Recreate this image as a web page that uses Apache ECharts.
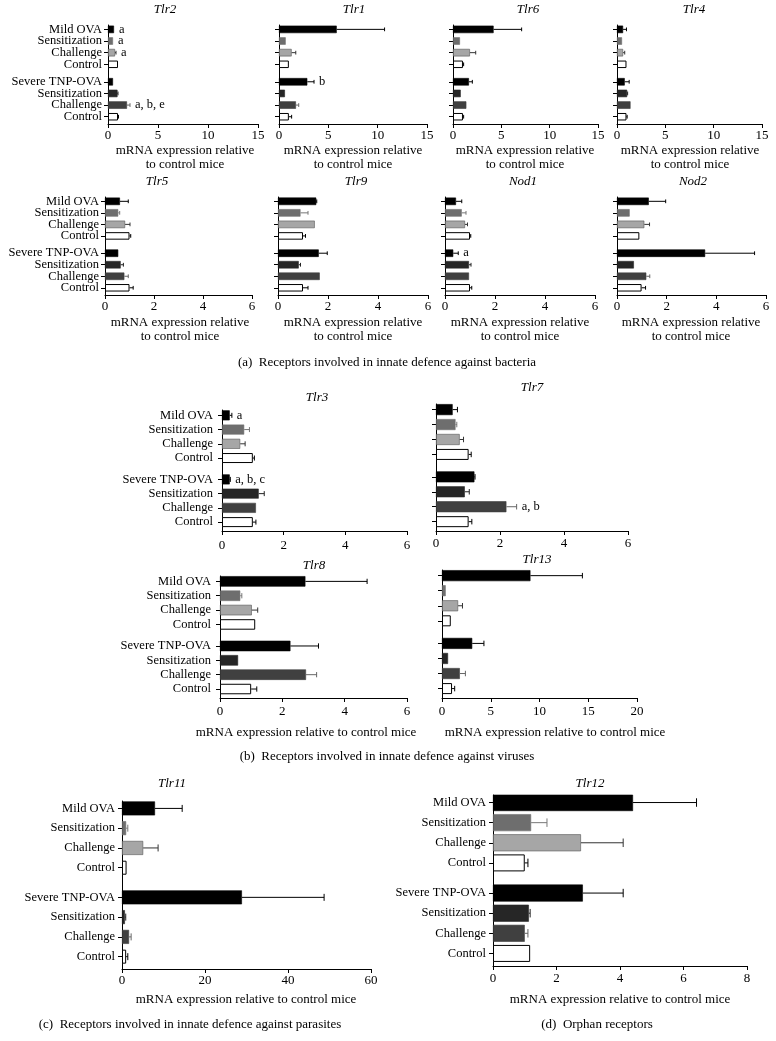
<!DOCTYPE html>
<html><head><meta charset="utf-8">
<script src="https://cdn.jsdelivr.net/npm/echarts@6/dist/echarts.min.js"></script>
<style>html,body{margin:0;padding:0;background:#fff}#c{width:776px;height:1041px}</style>
</head><body><div id="c"></div>
<script>
const categories = ['Mild OVA','Sensitization','Challenge','Control','Severe TNP-OVA','Sensitization','Challenge','Control'];

const ticks15 = [0,5,10,15];
const ticks6 = [0,2,4,6];
const ticks20 = [0,5,10,15,20];
const ticks60 = [0,20,40,60];
const ticks8 = [0,2,4,6,8];

const tlr2Mean = [0.6,0.5,0.7,1.0,0.5,0.95,1.9,1.0];
const tlr2Sem  = [0,0,0.1,0,0,0.05,0.3,0.05];
const tlr2Notes = ['a','a','a','','','','a, b, e',''];

const tlr1Mean = [5.85,0.68,1.28,1.0,2.87,0.6,1.72,1.0];
const tlr1Sem  = [4.85,0,0.42,0,0.68,0,0.28,0.28];
const tlr1Notes = ['','','','','b','','',''];

const tlr6Mean = [4.2,0.72,1.75,1.03,1.65,0.8,1.38,1.03];
const tlr6Sem  = [2.9,0,0.6,0.07,0.35,0,0,0.07];

const tlr4Mean = [0.63,0.52,0.63,0.98,0.8,1.05,1.4,0.98];
const tlr4Sem  = [0.35,0,0.17,0,0.46,0.05,0,0.07];

const tlr5Mean = [0.61,0.54,0.82,1.0,0.54,0.64,0.79,1.0];
const tlr5Sem  = [0.34,0.06,0.2,0.05,0,0.11,0.16,0.15];

const tlr9Mean = [1.53,0.9,1.47,1.0,1.63,0.83,1.67,1.0];
const tlr9Sem  = [0.02,0.3,0,0.1,0.34,0.07,0,0.2];

const nod1Mean = [0.44,0.67,0.8,1.0,0.33,0.96,0.96,1.0];
const nod1Sem  = [0.23,0.17,0.1,0.03,0.2,0.08,0,0.07];
const nod1Notes = ['','','','','a','','',''];

const nod2Mean = [1.28,0.51,1.1,0.9,3.55,0.68,1.18,0.99];
const nod2Sem  = [0.68,0,0.21,0,1.99,0,0.14,0.16];

const tlr3Mean = [0.25,0.72,0.59,1.0,0.25,1.19,1.1,1.0];
const tlr3Sem  = [0.07,0.17,0.16,0.05,0.02,0.18,0,0.1];
const tlr3Notes = ['a','','','','a, b, c','','',''];

const tlr7Mean = [0.52,0.61,0.74,1.02,1.2,0.9,2.2,1.02];
const tlr7Sem  = [0.15,0.04,0.12,0.08,0.02,0.14,0.32,0.1];
const tlr7Notes = ['','','','','','','a, b',''];

const tlr8Mean = [2.74,0.65,1.02,1.13,2.26,0.58,2.76,1.0];
const tlr8Sem  = [1.98,0.05,0.19,0,0.9,0,0.34,0.18];

const tlr13Mean = [9.07,0.38,1.65,0.9,3.1,0.62,1.83,1.03];
const tlr13Sem  = [5.33,0,0.45,0,1.2,0,0.57,0.27];

const tlr11Mean = [7.95,1.0,5.1,1.1,28.9,0.7,1.7,1.0];
const tlr11Sem  = [6.55,0.4,3.6,0,19.8,0.2,0.5,0.4];

const tlr12Mean = [4.41,1.2,2.77,1.0,2.83,1.13,1.0,1.17];
const tlr12Sem  = [2.0,0.5,1.33,0.1,1.27,0.04,0.1,0];

const noNotes = ['','','','','','','',''];

const FONT = '"Liberation Serif","Times New Roman",serif';
const barColors  = ['#000000','#6e6e6e','#a6a6a6','#ffffff','#000000','#262626','#404040','#ffffff'];
const barBorders = ['#000000','#6e6e6e','#555555','#000000','#000000','#262626','#404040','#000000'];
const errColors  = ['#000000','#777777','#333333','#000000','#000000','#222222','#666666','#000000'];

const SLOTS = 34;
const barSlots = [1,5,9,13,19,23,27,31];
const slotKeys = Array.from({length:SLOTS}, (_, i) => 's' + i);
const isBarSlot = (idx) => barSlots.indexOf(idx) >= 0;

const panels = [
  {title:'Tlr2', mean:tlr2Mean, sem:tlr2Sem, notes:tlr2Notes, ticks:ticks15, x0:108, x1:258, top:25, bottom:124, bw:7.5, labels:true, lm:6, tm:5, fs:12.5},
  {title:'Tlr1', mean:tlr1Mean, sem:tlr1Sem, notes:tlr1Notes, ticks:ticks15, x0:279, x1:427, top:25, bottom:124, bw:7.5, labels:false, lm:6, tm:5, fs:12.5},
  {title:'Tlr6', mean:tlr6Mean, sem:tlr6Sem, notes:noNotes, ticks:ticks15, x0:453, x1:598, top:25, bottom:124, bw:7.5, labels:false, lm:6, tm:5, fs:12.5},
  {title:'Tlr4', mean:tlr4Mean, sem:tlr4Sem, notes:noNotes, ticks:ticks15, x0:617, x1:762, top:25, bottom:124, bw:7.5, labels:false, lm:6, tm:5, fs:12.5},
  {title:'Tlr5', mean:tlr5Mean, sem:tlr5Sem, notes:noNotes, ticks:ticks6, x0:105, x1:252, top:197, bottom:295, bw:7.5, labels:true, lm:6, tm:5, fs:12.5},
  {title:'Tlr9', mean:tlr9Mean, sem:tlr9Sem, notes:noNotes, ticks:ticks6, x0:278, x1:428, top:197, bottom:295, bw:7.5, labels:false, lm:6, tm:5, fs:12.5},
  {title:'Nod1', mean:nod1Mean, sem:nod1Sem, notes:nod1Notes, ticks:ticks6, x0:445, x1:595, top:197, bottom:295, bw:7.5, labels:false, lm:6, tm:5, fs:12.5},
  {title:'Nod2', mean:nod2Mean, sem:nod2Sem, notes:noNotes, ticks:ticks6, x0:617, x1:766, top:197, bottom:295, bw:7.5, labels:false, lm:6, tm:5, fs:12.5},
  {title:'Tlr3', mean:tlr3Mean, sem:tlr3Sem, notes:tlr3Notes, ticks:ticks6, x0:222, x1:407, top:410, bottom:531, bw:10, labels:true, lm:9, tm:8, fs:12.5},
  {title:'Tlr7', mean:tlr7Mean, sem:tlr7Sem, notes:tlr7Notes, ticks:ticks6, x0:436, x1:628, top:404, bottom:531, bw:11, labels:false, lm:9, tm:6, fs:12.5},
  {title:'Tlr8', mean:tlr8Mean, sem:tlr8Sem, notes:noNotes, ticks:ticks6, x0:220, x1:407, top:576, bottom:698, bw:10.5, labels:true, lm:9, tm:7, fs:12.5},
  {title:'Tlr13', mean:tlr13Mean, sem:tlr13Sem, notes:noNotes, ticks:ticks20, x0:442, x1:637, top:570, bottom:698, bw:11, labels:false, lm:9, tm:7, fs:12.5},
  {title:'Tlr11', mean:tlr11Mean, sem:tlr11Sem, notes:noNotes, ticks:ticks60, x0:122, x1:371, top:801, bottom:969, bw:14, labels:true, lm:7, tm:5, fs:12.5},
  {title:'Tlr12', mean:tlr12Mean, sem:tlr12Sem, notes:noNotes, ticks:ticks8, x0:493, x1:747, top:795, bottom:966, bw:17, labels:true, lm:7, tm:6, fs:12.5}
];

const grid = [], xAxis = [], yAxis = [], series = [];
panels.forEach((p, i) => {
  grid.push({left:p.x0, top:p.top, width:p.x1 - p.x0, height:p.bottom - p.top});
  xAxis.push({
    gridIndex:i, type:'value', min:p.ticks[0], max:p.ticks[p.ticks.length-1], interval:p.ticks[1]-p.ticks[0],
    axisLine:{show:true, onZero:false, lineStyle:{color:'#000', width:1}},
    axisTick:{show:true, length:4, lineStyle:{color:'#000', width:1}},
    axisLabel:{show:true, margin:p.tm, fontSize:13, fontFamily:FONT, color:'#000', showMinLabel:true, showMaxLabel:true},
    splitLine:{show:false}
  });
  yAxis.push({
    gridIndex:i, type:'category', inverse:true, data:slotKeys, boundaryGap:true,
    axisLine:{show:true, onZero:false, lineStyle:{color:'#000', width:1}},
    axisTick:{show:true, alignWithLabel:true, interval:isBarSlot, length:4, lineStyle:{color:'#000', width:1}},
    axisLabel:{show:false},
    splitLine:{show:false}
  });
  const barData = slotKeys.map(() => '-');
  p.mean.forEach((m, j) => {
    barData[barSlots[j]] = {value:m, itemStyle:{color:barColors[j], borderColor:barBorders[j], borderWidth:(j===3||j===7)?1:0.6}};
  });
  series.push({type:'bar', xAxisIndex:i, yAxisIndex:i, barWidth:p.bw, data:barData, silent:true});
  const cap = Math.max(3.5, p.bw * 0.5);
  series.push({
    type:'custom', xAxisIndex:i, yAxisIndex:i, z:3, silent:true, clip:false,
    data:p.mean.map((m, j) => [m, p.sem[j], barSlots[j], j]),
    encode:{x:0, y:2},
    renderItem:(params, api) => {
      const m = api.value(0), s = api.value(1), slot = api.value(2), j = api.value(3);
      const a = api.coord([m, slot]);
      const b = api.coord([m + s, slot]);
      const z0 = api.coord([0, slot]);
      const children = [];
      if (s > 0) {
        children.push({type:'line', shape:{x1:a[0], y1:a[1], x2:b[0], y2:b[1]}, style:{stroke:errColors[j], lineWidth:1}});
        children.push({type:'line', shape:{x1:b[0], y1:b[1]-cap/2, x2:b[0], y2:b[1]+cap/2}, style:{stroke:errColors[j], lineWidth:1}});
      }
      const note = p.notes[j];
      if (note) {
        children.push({type:'text', x:b[0] + 5, y:a[1], style:{text:note, align:'left', verticalAlign:'middle', fontSize:12.5, fontFamily:FONT, fill:'#000'}});
      }
      if (p.labels) {
        children.push({type:'text', x:z0[0] - p.lm, y:z0[1], style:{text:categories[j], align:'right', verticalAlign:'middle', fontSize:p.fs, fontFamily:FONT, fill:'#000'}});
      }
      return {type:'group', children};
    }
  });
});

function txt(text, x, y, opts) {
  opts = opts || {};
  return {type:'text', x, y, silent:true, style:{text, align:'center', verticalAlign:'middle',
    fontSize:opts.size || 13, fontFamily:FONT, fontStyle:opts.italic ? 'italic' : 'normal',
    lineHeight:opts.lh || 14, fill:'#000'}};
}

const titleSpots = [
  ['Tlr2',165,10],['Tlr1',354,10],['Tlr6',528,10],['Tlr4',694,10],
  ['Tlr5',157,182],['Tlr9',356,182],['Nod1',523,182],['Nod2',693,182],
  ['Tlr3',317,398],['Tlr7',532,388],['Tlr8',314,566],['Tlr13',537,560],
  ['Tlr11',172,784],['Tlr12',590,784]
];
const nameTwo = 'mRNA expression relative\nto control mice';
const nameOne = 'mRNA expression relative to control mice';
const graphics = [];
titleSpots.forEach(t => graphics.push(txt(t[0], t[1], t[2], {italic:true})));
[[185,157.5],[353,157.5],[525,157.5],[690,157.5],[180,330],[353,330],[520,330],[691,330]].forEach(c => graphics.push(txt(nameTwo, c[0], c[1])));
[[306,733],[555,733],[246,1000],[620,1000]].forEach(c => graphics.push(txt(nameOne, c[0], c[1])));
graphics.push(txt('(a)  Receptors involved in innate defence against bacteria', 387, 363));
graphics.push(txt('(b)  Receptors involved in innate defence against viruses', 387, 757));
graphics.push(txt('(c)  Receptors involved in innate defence against parasites', 190, 1025));
graphics.push(txt('(d)  Orphan receptors', 597, 1025));

const chart = echarts.init(document.getElementById('c'), null, {renderer:'canvas'});
chart.setOption({animation:false, backgroundColor:'#fff', grid, xAxis, yAxis, series, graphic:graphics});
</script>
</body></html>
